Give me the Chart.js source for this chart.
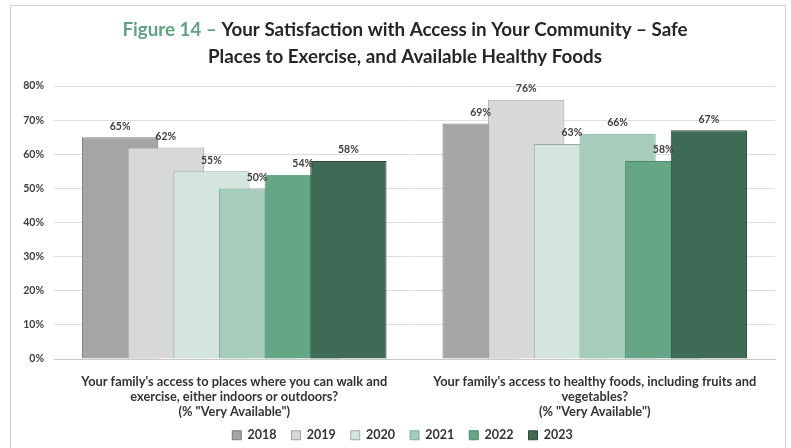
<!DOCTYPE html>
<html>
<head>
<meta charset="utf-8">
<script src="https://cdn.jsdelivr.net/npm/chart.js@4.4.1/dist/chart.umd.min.js"></script>
<style>
  html, body { margin: 0; padding: 0; background: #fff; }
  #wrap { position: relative; width: 791px; height: 448px; }
  #frame { position: absolute; left: 10px; top: 5px; width: 776px; height: 445px; border: 1px solid #d4d4d4; box-sizing: border-box; pointer-events: none; }
</style>
</head>
<body>
<div id="wrap">
  <canvas id="access-chart" width="791" height="448"></canvas>
  <div id="frame"></div>
</div>
<script>
var categories = [
  ["Your family's access to places where you can walk and", "exercise, either indoors or outdoors?", "(% \"Very Available\")"],
  ["Your family's access to healthy foods, including fruits and", "vegetables?", "(% \"Very Available\")"]
];
var years = ["2018", "2019", "2020", "2021", "2022", "2023"];
var values2018 = [65, 69];
var values2019 = [62, 76];
var values2020 = [55, 63];
var values2021 = [50, 66];
var values2022 = [54, 58];
var values2023 = [58, 67];
var yTicks = [0, 10, 20, 30, 40, 50, 60, 70, 80];

var fills = ["#a5a5a5", "#d8d8d8", "#d3e5dc", "#a6cdbb", "#64a685", "#3f6b56"];
var edges = ["#7b7b7b", "#a0a0a0", "#9aaaa2", "#86ab99", "#4d8a6b", "#2b4a3c"];
var allValues = [values2018, values2019, values2020, values2021, values2022, values2023];

var datasets = years.map(function (y, i) {
  return {
    label: y,
    data: allValues[i],
    backgroundColor: fills[i],
    borderColor: edges[i],
    borderWidth: 1,
    categoryPercentage: 0.76,
    barPercentage: 1.67
  };
});

// title with a green figure number, drawn above the plot
var titlePlugin = {
  id: "figTitle",
  afterLayout: function (chart) {
    // legend row sits a bit right of centre and tucked under the axis labels
    var lg = chart.legend;
    lg.left += 15;
    lg.right += 15;
    lg.top -= 7;
    lg.bottom -= 7;
  },
  afterDraw: function (chart) {
    var ctx = chart.ctx;
    ctx.save();
    ctx.font = "bold 18.8px Lato";
    ctx.textBaseline = "middle";
    var a = "Figure 14 \u2013 ";
    var b = "Your Satisfaction with Access in Your Community \u2013 Safe";
    var wa = ctx.measureText(a).width, wb = ctx.measureText(b).width;
    var x0 = 405 - (wa + wb) / 2;
    ctx.textAlign = "left";
    ctx.fillStyle = "#62a184";
    ctx.fillText(a, x0, 30);
    ctx.fillStyle = "#262626";
    ctx.fillText(b, x0 + wa, 30);
    ctx.textAlign = "center";
    ctx.fillText("Places to Exercise, and Available Healthy Foods", 405, 57);
    ctx.restore();
  }
};

// later years sit on top of earlier ones, then the value labels
var overlapPlugin = {
  id: "overlapDraw",
  beforeDatasetsDraw: function (chart) {
    var ctx = chart.ctx;
    for (var i = 0; i < chart.data.datasets.length; i++) {
      chart.getDatasetMeta(i).controller.draw();
    }
    ctx.save();
    ctx.font = "bold 10.5px Lato";
    ctx.fillStyle = "#404040";
    ctx.textAlign = "center";
    ctx.textBaseline = "middle";
    chart.data.datasets.forEach(function (ds, i) {
      chart.getDatasetMeta(i).data.forEach(function (bar, j) {
        ctx.fillText(ds.data[j] + "%", bar.x, bar.y - 11);
      });
    });
    ctx.restore();
    return false;
  }
};

window.addEventListener("load", function () {
  var ctx = document.getElementById("access-chart");
  new Chart(ctx, {
    type: "bar",
    data: { labels: categories, datasets: datasets },
    plugins: [overlapPlugin, titlePlugin],
    options: {
      responsive: false,
      animation: false,
      layout: { padding: { top: 86, left: 0, right: 16, bottom: -3 } },
      plugins: {
        title: { display: false },
        tooltip: { enabled: false },
        legend: {
          position: "bottom",
          maxHeight: 30,
          labels: {
            boxWidth: 9,
            boxHeight: 9,
            padding: 15,
            color: "#333333",
            font: { family: "Lato", size: 12.5, weight: "bold" }
          }
        }
      },
      scales: {
        x: {
          afterFit: function (s) { s.height = 62; },
          grid: { display: false, drawTicks: false },
          border: { display: true, color: "#c8c8c8" },
          ticks: {
            autoSkip: false,
            maxRotation: 0,
            padding: 15,
            color: "#333333",
            font: { family: "Lato", size: 12.8, weight: "bold", lineHeight: 1.18 }
          }
        },
        y: {
          min: 0,
          max: 80,
          afterFit: function (s) { s.width = 54; },
          afterBuildTicks: function (s) { s.ticks = yTicks.map(function (v) { return { value: v }; }); },
          grid: { color: "#dedede", drawTicks: false },
          border: { display: false },
          ticks: {
            padding: 10,
            color: "#404040",
            font: { family: "Lato", size: 10.5, weight: "bold" },
            callback: function (v) { return v + "%"; }
          }
        }
      }
    }
  });
});
</script>
</body>
</html>
